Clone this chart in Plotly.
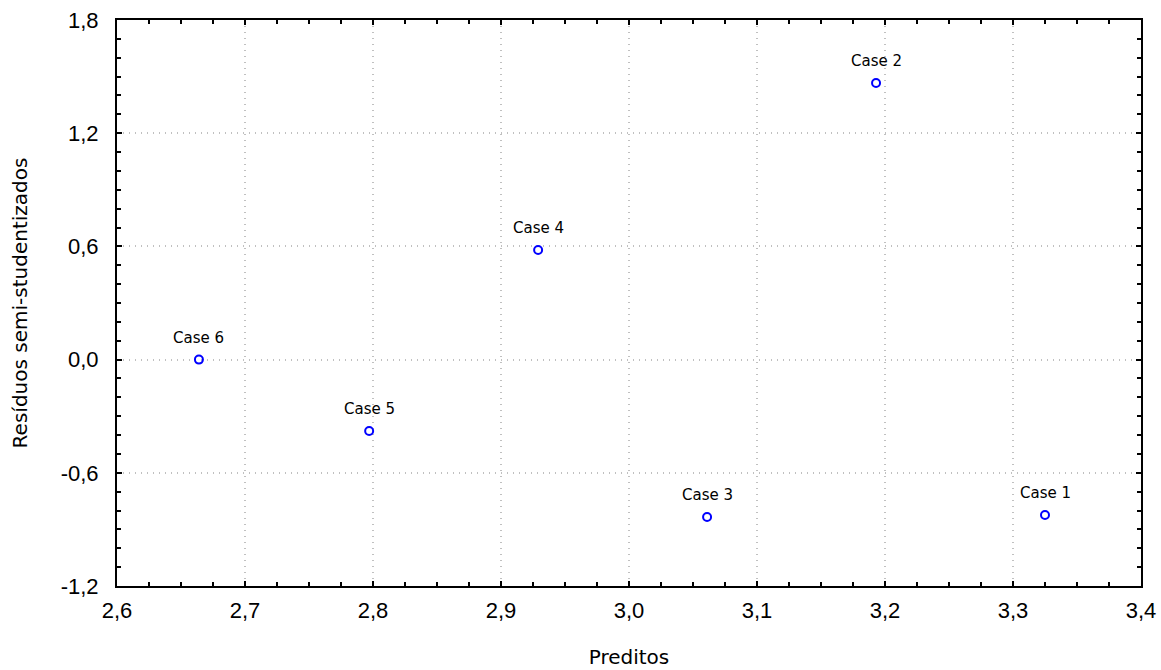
import plotly.graph_objects as go

cases = ["Case 1", "Case 2", "Case 3", "Case 4", "Case 5", "Case 6"]
preditos = [3.325, 3.193, 3.061, 2.929, 2.797, 2.664]
residuos = [-0.824, 1.466, -0.834, 0.581, -0.378, 0.0]

x_ticks = [2.6, 2.7, 2.8, 2.9, 3.0, 3.1, 3.2, 3.3, 3.4]
x_labels = ["2,6", "2,7", "2,8", "2,9", "3,0", "3,1", "3,2", "3,3", "3,4"]
y_ticks = [-1.2, -0.6, 0.0, 0.6, 1.2, 1.8]
y_labels = ["-1,2", "-0,6", "0,0", "0,6", "1,2", "1,8"]

fig = go.Figure()
fig.add_trace(go.Scatter(
    x=preditos, y=residuos, mode="markers",
    marker=dict(symbol="circle-open", size=8, color="#0000ff", line=dict(width=2, color="#0000ff")),
    showlegend=False, cliponaxis=False,
))
for cx, cy, ct in zip(preditos, residuos, cases):
    fig.add_annotation(x=cx, y=cy, text=ct, showarrow=False, yanchor="middle",
                       yshift=22, font=dict(family="DejaVu Sans", size=15, color="black"))

axis_common = dict(
    showline=True, linecolor="black", linewidth=2, mirror="ticks",
    ticks="inside", ticklen=5, tickwidth=2, tickcolor="black",
    showgrid=True, gridcolor="#c0c0c0", griddash="1px,5px", gridwidth=2,
    zeroline=False, automargin=False, ticklabeloverflow="allow",
    tickfont=dict(family="Liberation Sans, Arial", size=22, color="black"),
)

fig.update_layout(
    width=1161, height=670,
    margin=dict(l=117, r=20, t=20, b=84),
    paper_bgcolor="white", plot_bgcolor="white",
    xaxis=dict(range=[2.6, 3.4], tickvals=x_ticks, ticktext=x_labels,
               minor=dict(dtick=0.025, tick0=2.6, ticks="inside", ticklen=4, tickwidth=2, tickcolor="black", showgrid=False),
               ticklabelstandoff=4,
               title=dict(text="Preditos", font=dict(family="DejaVu Sans", size=20, color="black"), standoff=28),
               **axis_common),
    yaxis=dict(range=[-1.2, 1.8], tickvals=y_ticks, ticktext=y_labels,
               minor=dict(dtick=0.1, tick0=-1.2, ticks="inside", ticklen=4, tickwidth=2, tickcolor="black", showgrid=False),
               ticklabelstandoff=12,
               title=dict(text="Resíduos semi-studentizados", font=dict(family="DejaVu Sans", size=20, color="black"), standoff=28),
               **axis_common),
)

fig.write_html("out.html", config={"displayModeBar": False},
               post_script="document.body.style.margin='0';document.body.style.overflow='hidden';")
